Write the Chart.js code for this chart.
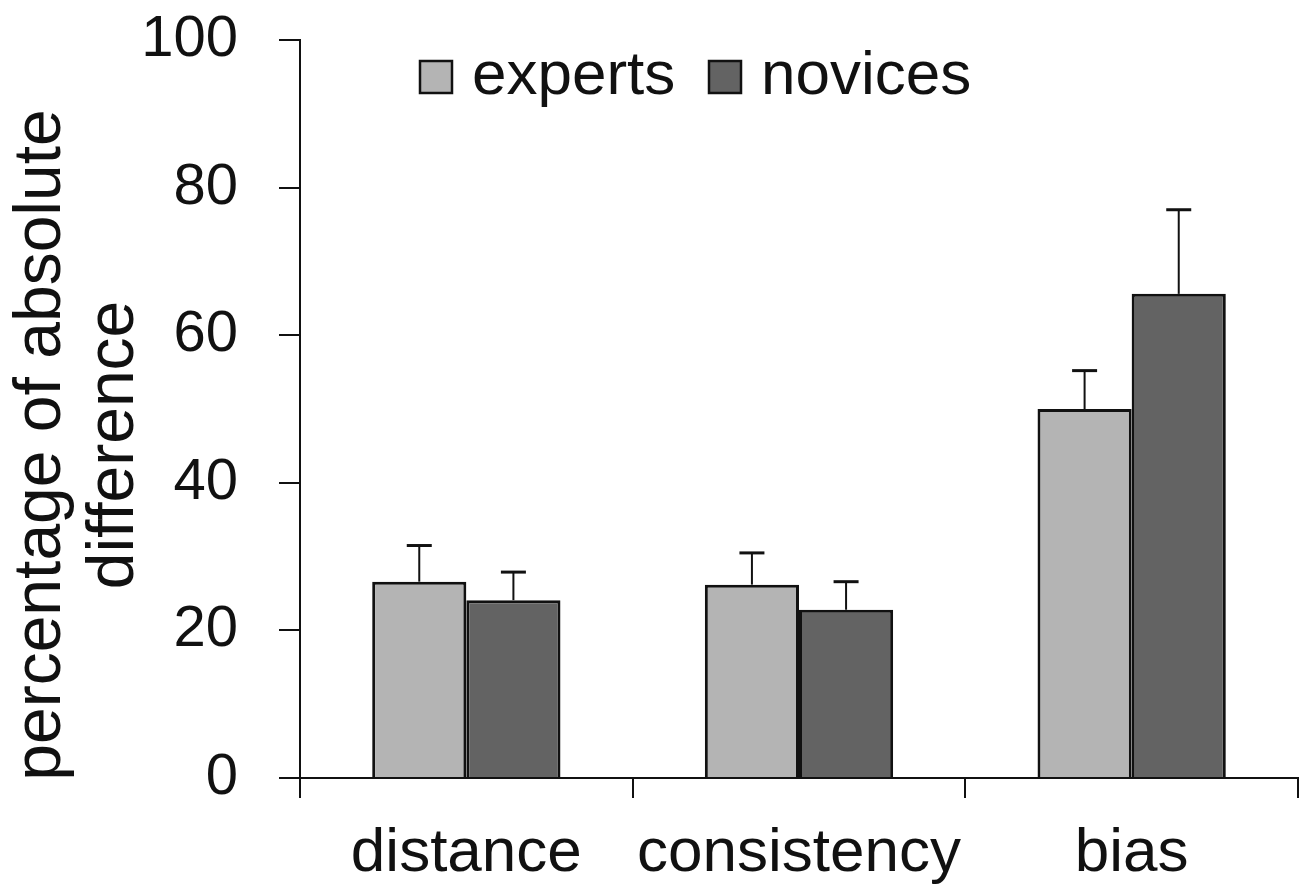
<!DOCTYPE html>
<html>
<head>
<meta charset="utf-8">
<script src="https://cdn.jsdelivr.net/npm/chart.js@4.4.1/dist/chart.umd.min.js"></script>
<style>
  html, body { margin: 0; padding: 0; background: #fff; }
  #wrap { width: 1311px; height: 888px; position: relative; }
</style>
</head>
<body>
<div id="wrap"><canvas id="chart"></canvas></div>
<script>
// data
const categories = ["distance", "consistency", "bias"];
const seriesNames = ["experts", "novices"];
const expertsValues = [26.6, 26.2, 50.0];
const novicesValues = [24.1, 22.8, 65.6];
const expertsErr = [4.9, 4.3, 5.2];
const novicesErr = [3.8, 3.8, 11.4];
const yTicks = [0, 20, 40, 60, 80, 100];
const yTitleLines = ["percentage of absolute", "difference"];

const FONT = "'Liberation Sans', Arial, sans-serif";
const errors = [expertsErr, novicesErr];

// upper error bars with a cap
const errorBars = {
  id: "errorBars",
  afterDatasetsDraw(chart) {
    const { ctx, scales: { y } } = chart;
    ctx.save();
    ctx.strokeStyle = "#111";
    chart.data.datasets.forEach((ds, i) => {
      const meta = chart.getDatasetMeta(i);
      meta.data.forEach((bar, j) => {
        const top = y.getPixelForValue(ds.data[j] + errors[i][j]);
        ctx.lineWidth = 2;
        ctx.beginPath();
        ctx.moveTo(bar.x, bar.y);
        ctx.lineTo(bar.x, top);
        ctx.stroke();
        ctx.lineWidth = 3;
        ctx.beginPath();
        ctx.moveTo(bar.x - 12.5, top);
        ctx.lineTo(bar.x + 12.5, top);
        ctx.stroke();
      });
    });
    ctx.restore();
  },
};

// legend sits inside the plot, top left
const innerLegend = {
  id: "innerLegend",
  afterDraw(chart) {
    const { ctx } = chart;
    const pos = [420, 709];
    ctx.save();
    ctx.font = `62px ${FONT}`;
    ctx.textBaseline = "middle";
    ctx.textAlign = "left";
    chart.data.datasets.forEach((ds, i) => {
      const x = pos[i];
      ctx.fillStyle = ds.backgroundColor;
      ctx.fillRect(x, 61, 32, 32);
      ctx.lineWidth = 2.5;
      ctx.strokeStyle = "#111";
      ctx.strokeRect(x, 61, 32, 32);
      ctx.fillStyle = "#111";
      ctx.fillText(ds.label, x + 52, 77);
    });
    ctx.restore();
  },
};

// two-line rotated y title
const yTitle = {
  id: "yTitle",
  afterDraw(chart) {
    const { ctx } = chart;
    const baselines = [60, 133];
    ctx.save();
    ctx.font = `66px ${FONT}`;
    ctx.fillStyle = "#111";
    ctx.textAlign = "center";
    ctx.textBaseline = "alphabetic";
    yTitleLines.forEach((line, i) => {
      ctx.save();
      ctx.translate(baselines[i], 445);
      ctx.rotate(-Math.PI / 2);
      ctx.fillText(line, 0, 0);
      ctx.restore();
    });
    ctx.restore();
  },
};

new Chart(document.getElementById("chart"), {
  type: "bar",
  data: {
    labels: categories,
    datasets: [
      {
        label: seriesNames[0],
        data: expertsValues,
        backgroundColor: "#b4b4b4",
        borderColor: "#111",
        borderWidth: 3,
      },
      {
        label: seriesNames[1],
        data: novicesValues,
        backgroundColor: "#636363",
        borderColor: "#111",
        borderWidth: 3,
      },
    ],
  },
  options: {
    responsive: true,
    maintainAspectRatio: false,
    animation: false,
    layout: { padding: { top: 40, right: 13, left: 0, bottom: 0 } },
    datasets: { bar: { categoryPercentage: 0.566, barPercentage: 1 } },
    scales: {
      x: {
        grid: { offset: true, drawOnChartArea: false, drawTicks: true, tickLength: 20, color: "#111", lineWidth: 2 },
        border: { display: true, color: "#111", width: 2 },
        ticks: { color: "#111", font: { family: FONT, size: 62 }, padding: 19 },
        afterFit: (scale) => { scale.height = 110; scale.paddingLeft = 0; scale.paddingRight = 0; },
      },
      y: {
        min: 0,
        max: 100,
        afterBuildTicks: (scale) => { scale.ticks = yTicks.map((v) => ({ value: v })); },
        grid: { drawOnChartArea: false, drawTicks: true, tickLength: 21, color: "#111", lineWidth: 2 },
        border: { display: true, color: "#111", width: 2 },
        ticks: { color: "#111", font: { family: FONT, size: 58 }, padding: 41 },
        afterFit: (scale) => { scale.width = 300; scale.paddingTop = 0; scale.paddingBottom = 0; },
      },
    },
    plugins: {
      legend: { display: false },
      tooltip: { enabled: false },
    },
  },
  plugins: [errorBars, innerLegend, yTitle],
});
</script>
</body>
</html>
